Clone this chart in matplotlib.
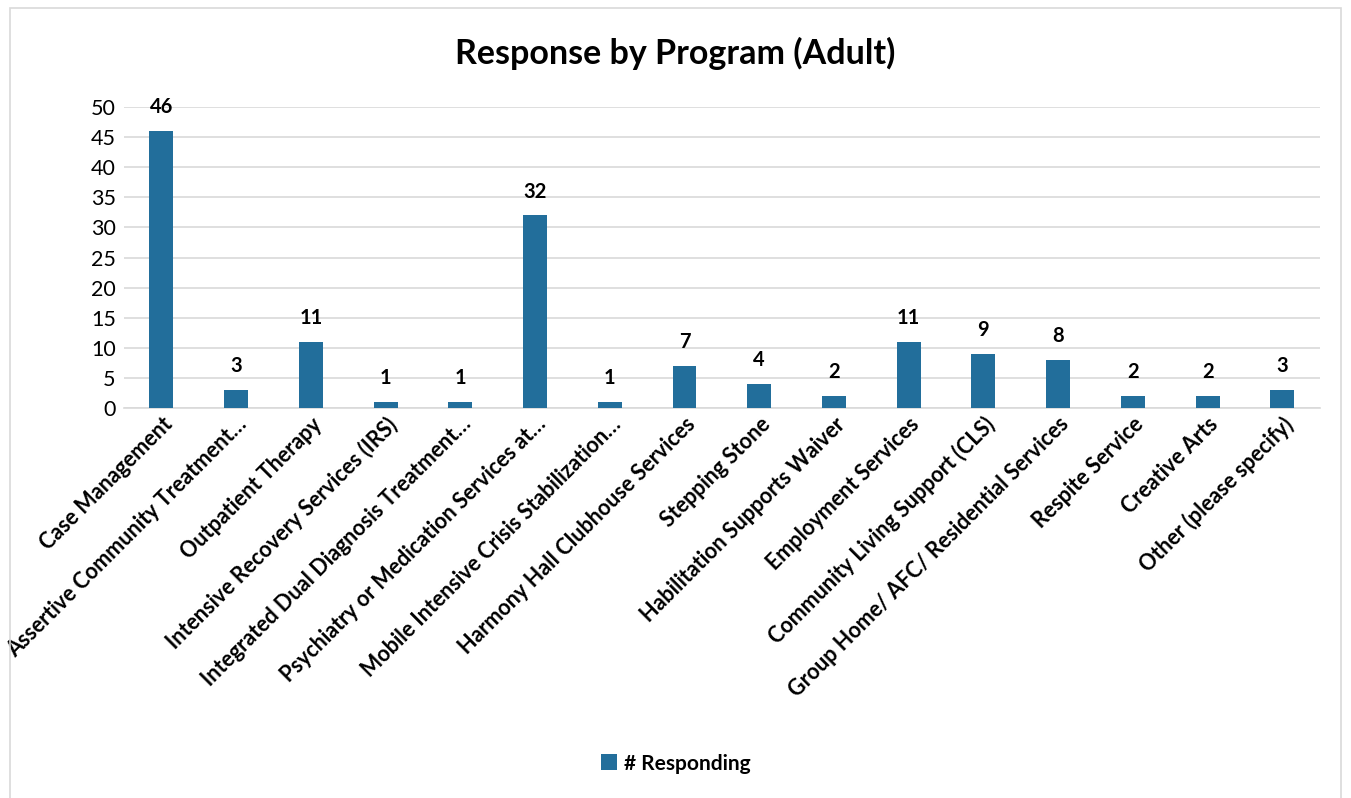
import matplotlib.pyplot as plt
from matplotlib.patches import Rectangle

programs = [
    "Case Management",
    "Assertive Community Treatment…",
    "Outpatient Therapy",
    "Intensive Recovery Services (IRS)",
    "Integrated Dual Diagnosis Treatment…",
    "Psychiatry or Medication Services at…",
    "Mobile Intensive Crisis Stabilization…",
    "Harmony Hall Clubhouse Services",
    "Stepping Stone",
    "Habilitation Supports Waiver",
    "Employment Services",
    "Community Living Support (CLS)",
    "Group Home/ AFC/ Residential Services",
    "Respite Service",
    "Creative Arts",
    "Other (please specify)",
]
responding = [46, 3, 11, 1, 1, 32, 1, 7, 4, 2, 11, 9, 8, 2, 2, 3]
y_ticks = [0, 5, 10, 15, 20, 25, 30, 35, 40, 45, 50]

plt.rcParams['font.family'] = ['Lato', 'DejaVu Sans']
bar_color = '#226E9B'

fig = plt.figure(figsize=(13.51, 7.98), dpi=100)
ax = fig.add_axes([0.0918, 0.4887, 0.885, 0.3772])

x = range(len(programs))
bars = ax.bar(x, responding, width=0.32, color=bar_color, label='# Responding', zorder=3)

# value labels above each bar
for xi, v in zip(x, responding):
    ax.text(xi, v + 2.3, str(v), ha='center', va='bottom',
            fontsize=14.5, fontweight='bold', color='black')

ax.set_xlim(-0.5, len(programs) - 0.5)
ax.set_ylim(0, 50)
ax.set_yticks(y_ticks)
ax.tick_params(axis='y', length=0, labelsize=15.5, pad=6)
ax.tick_params(axis='x', length=0, pad=4)
ax.set_xticks(list(x))
ax.set_xticklabels(programs, rotation=45, ha='right', rotation_mode='anchor',
                   fontsize=15.5, fontweight='bold')
ax.grid(axis='y', color='#D9D9D9', linewidth=1.2, zorder=0)
for side in ['top', 'right', 'left']:
    ax.spines[side].set_visible(False)
ax.spines['bottom'].set_color('#D9D9D9')
ax.spines['bottom'].set_linewidth(1.2)

fig.text(0.5, 0.933, 'Response by Program (Adult)', ha='center', va='center',
         fontsize=24.5, fontweight='bold')

leg = fig.legend(handles=[bars], labels=['# Responding'], loc='center',
                 bbox_to_anchor=(0.5, 0.043), frameon=False,
                 prop={'weight': 'bold', 'size': 15},
                 handlelength=0.8, handleheight=0.8, handletextpad=0.3)

# light chart-area border
fig.add_artist(Rectangle((0.0075, -0.01), 0.985, 1.0, transform=fig.transFigure,
                         fill=False, edgecolor='#D9D9D9', linewidth=1.2))

fig.savefig('out.png', dpi=100)
